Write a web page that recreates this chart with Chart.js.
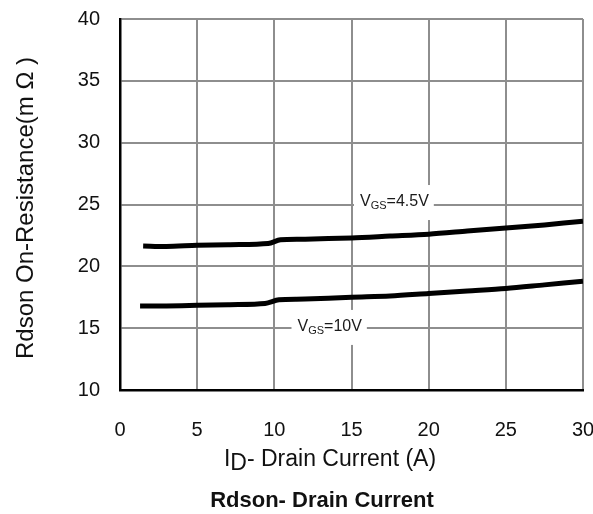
<!DOCTYPE html>
<html>
<head>
<meta charset="utf-8">
<script src="https://cdn.jsdelivr.net/npm/chart.js@4.4.1/dist/chart.umd.min.js"></script>
<style>
  html, body { margin: 0; padding: 0; background: #fff; }
  #wrap { width: 593px; height: 514px; }
</style>
</head>
<body>
<div id="wrap"><canvas id="grafica" width="593" height="514"></canvas></div>
<script>
// drain current (A) and on-resistance (mOhm)
const current45 = [1.5, 3, 5, 7, 9.6, 10.4, 12, 15, 17.5, 20, 22.5, 25, 27.5, 30];
const rdson45 = [21.65, 21.6, 21.7, 21.75, 21.85, 22.15, 22.2, 22.3, 22.45, 22.6, 22.85, 23.1, 23.35, 23.65];

const current10 = [1.3, 3, 5, 7, 9.4, 10.3, 12, 15, 17.5, 20, 22.5, 25, 27.5, 30];
const rdson10 = [16.8, 16.8, 16.85, 16.9, 17.0, 17.3, 17.35, 17.5, 17.6, 17.8, 18.0, 18.2, 18.5, 18.8];

const xTicks = [0, 5, 10, 15, 20, 25, 30];
const yTicks = [10, 15, 20, 25, 30, 35, 40];

// curve labels: [text, subscript, tail, x, y]
const curveLabels = [
  ['V', 'GS', '=4.5V', 15.55, 25.2],
  ['V', 'GS', '=10V', 11.5, 15.1]
];

const xTitle = ['I', 'D', '- Drain Current (A)'];
const yTitle = 'Rdson On-Resistance(m \u03A9 )';
const chartTitle = 'Rdson- Drain Current';

const FONT = '"Liberation Sans", Arial, sans-serif';

function toPoints(xs, ys) {
  return xs.map((x, i) => ({ x: x, y: ys[i] }));
}

const textPlugin = {
  id: 'textPlugin',
  afterDatasetsDraw(chart) {
    const c = chart.ctx;
    const xs = chart.scales.x;
    const ys = chart.scales.y;
    c.save();

    // curve labels with white box over the grid
    curveLabels.forEach(l => {
      const px = xs.getPixelForValue(l[3]);
      const py = ys.getPixelForValue(l[4]);
      c.font = '16px ' + FONT;
      const w1 = c.measureText(l[0]).width;
      const w3 = c.measureText(l[2]).width;
      c.font = '11px ' + FONT;
      const w2 = c.measureText(l[1]).width;
      const total = w1 + w2 + w3;
      c.fillStyle = '#fff';
      c.fillRect(px - 6, py - 17, total + 11, 35);
      c.fillStyle = '#1a1a1a';
      c.textBaseline = 'middle';
      c.textAlign = 'left';
      c.font = '16px ' + FONT;
      c.fillText(l[0], px, py);
      c.font = '11px ' + FONT;
      c.fillText(l[1], px + w1, py + 4);
      c.font = '16px ' + FONT;
      c.fillText(l[2], px + w1 + w2, py);
    });

    // x axis title with lowered D
    c.fillStyle = '#111';
    c.textBaseline = 'middle';
    c.font = '23px ' + FONT;
    const a = c.measureText(xTitle[0]).width;
    const b = c.measureText(xTitle[1]).width;
    const d = c.measureText(xTitle[2]).width;
    const sx = 330 - (a + b + d) / 2;
    c.textAlign = 'left';
    c.fillText(xTitle[0], sx, 460);
    c.fillText(xTitle[1], sx + a, 464);
    c.fillText(xTitle[2], sx + a + b, 460);

    // chart title
    c.font = 'bold 22px ' + FONT;
    c.textAlign = 'center';
    c.fillText(chartTitle, 322, 501);

    // y axis title
    c.translate(26, 208);
    c.rotate(-Math.PI / 2);
    c.font = '24px ' + FONT;
    c.fillText(yTitle, 0, 0);
    c.restore();
  }
};

const ctx = document.getElementById('grafica');

new Chart(ctx, {
  type: 'line',
  data: {
    datasets: [{
      label: 'VGS=4.5V',
      data: toPoints(current45, rdson45),
      borderColor: '#000',
      borderWidth: 5,
      pointRadius: 0,
      tension: 0.3,
      fill: false
    }, {
      label: 'VGS=10V',
      data: toPoints(current10, rdson10),
      borderColor: '#000',
      borderWidth: 5,
      pointRadius: 0,
      tension: 0.3,
      fill: false
    }]
  },
  options: {
    responsive: false,
    animation: false,
    layout: {
      padding: { top: 19, right: 10, bottom: 0, left: 0 }
    },
    plugins: {
      legend: { display: false },
      title: { display: false },
      tooltip: { enabled: false }
    },
    scales: {
      x: {
        type: 'linear',
        min: 0,
        max: 30,
        afterBuildTicks(scale) {
          scale.ticks = xTicks.map(v => ({ value: v }));
        },
        afterFit(scale) {
          scale.height = 124;
          scale.paddingLeft = 0;
          scale.paddingRight = 0;
        },
        grid: { color: '#8e8e8e', lineWidth: 2, drawTicks: false },
        border: { color: '#000', width: 2.5 },
        ticks: {
          padding: 28,
          maxRotation: 0,
          color: '#111',
          font: { family: FONT, size: 20 }
        }
      },
      y: {
        min: 10,
        max: 40,
        afterBuildTicks(scale) {
          scale.ticks = yTicks.map(v => ({ value: v }));
        },
        afterFit(scale) {
          scale.width = 120;
          scale.paddingTop = 0;
          scale.paddingBottom = 0;
        },
        grid: { color: '#8e8e8e', lineWidth: 2, drawTicks: false },
        border: { color: '#000', width: 2.5 },
        ticks: {
          padding: 20,
          color: '#111',
          font: { family: FONT, size: 20 }
        }
      }
    }
  },
  plugins: [textPlugin]
});
</script>
</body>
</html>
